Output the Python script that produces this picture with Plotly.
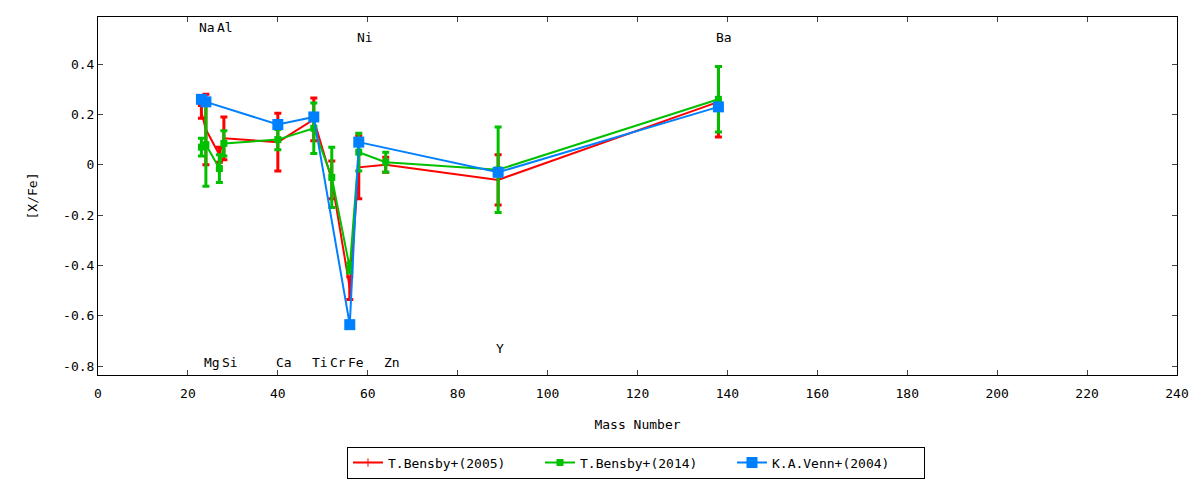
import plotly.graph_objs as go

# mass numbers of the elements
ELEMENTS = ['Na', 'Mg', 'Al', 'Si', 'Ca', 'Ti', 'Cr', 'Fe', 'Ni', 'Zn', 'Y', 'Ba']
MASS = [23, 24, 27, 28, 40, 48, 52, 56, 58, 64, 89, 138]

# T.Bensby+(2005)
bensby05 = [0.21, 0.14, 0.04, 0.105, 0.09, 0.18, -0.06, -0.49, -0.01, 0.0, -0.06, 0.25]
bensby05_err = [0.025, 0.14, 0.03, 0.085, 0.115, 0.085, 0.075, 0.045, 0.125, 0.03, 0.10, 0.14]

# T.Bensby+(2014)
bensby14 = [0.07, 0.08, -0.015, 0.085, 0.10, 0.145, -0.05, -0.41, 0.05, 0.01, -0.02, 0.26]
bensby14_err = [0.035, 0.165, 0.055, 0.05, 0.04, 0.10, 0.12, 0.02, 0.075, 0.04, 0.17, 0.13]

# K.A.Venn+(2004)
VENN_MASS = [23, 24, 40, 48, 56, 58, 89, 138]
venn04 = [0.26, 0.25, 0.16, 0.19, -0.635, 0.09, -0.03, 0.23]
venn04_err = [0, 0, 0, 0, 0, 0, 0, 0]

# element labels drawn on the plot
LABEL_TEXT = ['Na', 'Al', 'Mg', 'Si', 'Ca', 'Ti', 'Cr', 'Fe', 'Ni', 'Zn', 'Y', 'Ba']
LABEL_X = [23, 27, 24, 28, 40, 48, 52, 56, 58, 64, 89, 138]
LABEL_Y = [0.545, 0.545, -0.785, -0.785, -0.785, -0.785, -0.785, -0.785, 0.505, -0.785, -0.73, 0.505]

XTICKS = [0, 20, 40, 60, 80, 100, 120, 140, 160, 180, 200, 220, 240]
YTICKS = [-0.8, -0.6, -0.4, -0.2, 0, 0.2, 0.4]
YTICK_LABELS = ['-0.8', '-0.6', '-0.4', '-0.2', '0', '0.2', '0.4']

FONT = 'DejaVu Sans Mono'


def series(x, y, err, name, color, symbol, size):
    return go.Scatter(
        x=x, y=y, name=name, mode='lines+markers',
        line=dict(color=color, width=2),
        marker=dict(color=color, symbol=symbol, size=size),
        error_y=dict(type='data', array=err, visible=True,
                     color=color, thickness=3, width=3.5),
    )


data = [
    series(MASS, bensby05, bensby05_err, 'T.Bensby+(2005)', '#ff0000', 'line-ns-open', 6),
    series(MASS, bensby14, bensby14_err, 'T.Bensby+(2014)', '#00c000', 'square', 7),
    series(VENN_MASS, venn04, venn04_err, 'K.A.Venn+(2004)', '#0080ff', 'square', 11),
]

annotations = [
    dict(x=x, y=y, text=t, xref='x', yref='y', showarrow=False,
         xanchor='left', yanchor='middle', xshift=-4,
         font=dict(family=FONT, size=13, color='black'))
    for t, x, y in zip(LABEL_TEXT, LABEL_X, LABEL_Y)
]

# page body adds 8px, so margins are measured from there
layout = go.Layout(
    width=1200, height=480,
    paper_bgcolor='white', plot_bgcolor='white',
    margin=dict(l=90, r=31, t=9, b=105),
    font=dict(family=FONT, size=13, color='black'),
    xaxis=dict(range=[0, 240], tickvals=XTICKS, ticks='inside', ticklen=5,
               showline=True, linecolor='black', linewidth=1, mirror='ticks',
               showgrid=False, zeroline=False, automargin=False,
               tickfont=dict(size=13), ticklabelstandoff=6,
               title=dict(text='Mass Number', standoff=20, font=dict(size=13))),
    yaxis=dict(range=[-0.835, 0.587], tickvals=YTICKS, ticktext=YTICK_LABELS,
               ticks='inside', ticklen=5,
               showline=True, linecolor='black', linewidth=1, mirror='ticks',
               showgrid=False, zeroline=False, automargin=False,
               tickfont=dict(size=13),
               title=dict(text='[X/Fe]', standoff=22, font=dict(size=13))),
    legend=dict(orientation='h', x=0.4986, xanchor='center', y=-0.2, yanchor='top',
                entrywidth=147, bordercolor='black', borderwidth=1,
                font=dict(family=FONT, size=13)),
    annotations=annotations,
)

fig = go.Figure(data=data, layout=layout)
fig.write_html("out.html")
